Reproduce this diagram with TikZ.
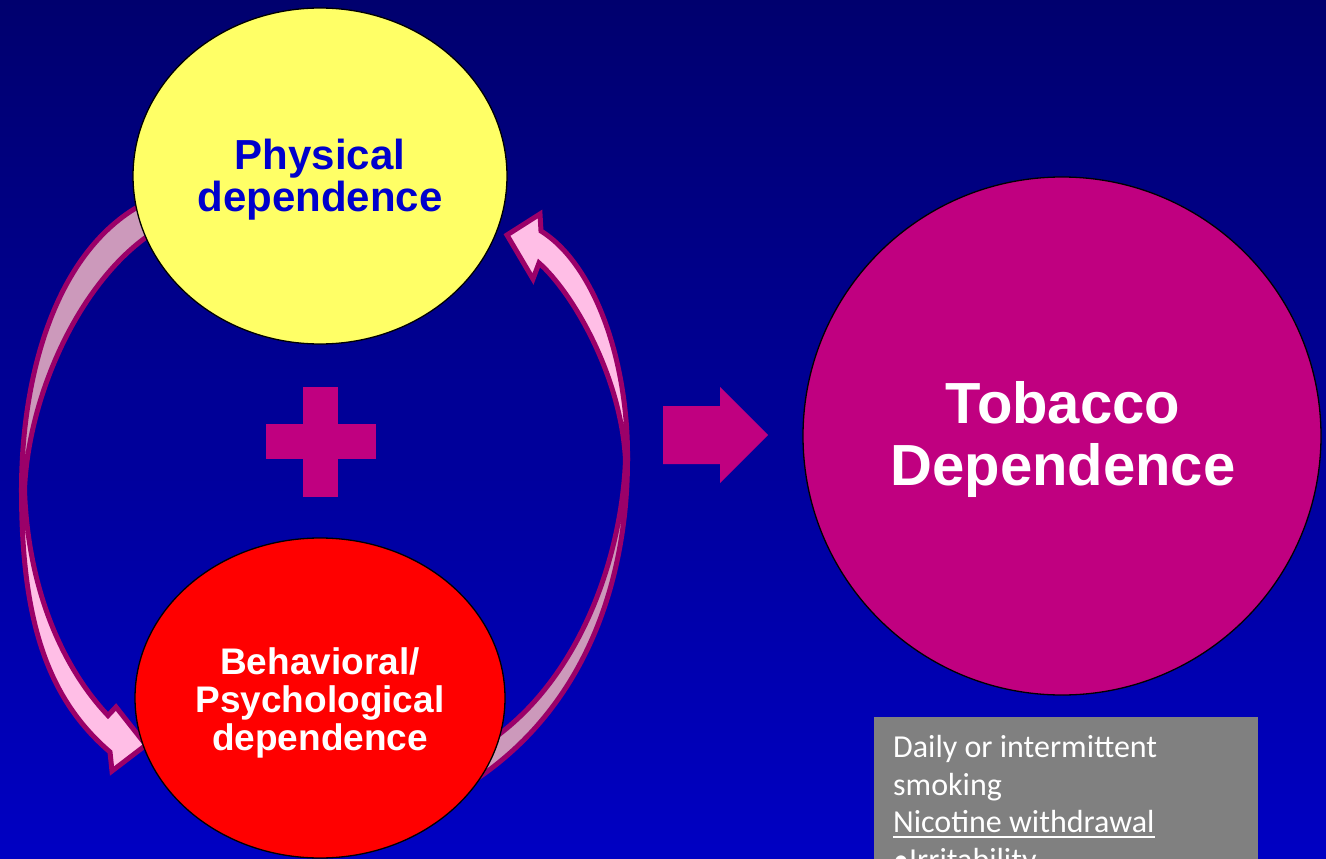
\documentclass[tikz,border=0pt]{standalone}
\usepackage{fontspec}
\setmainfont{Liberation Sans}
\newfontfamily\calibrifont{Carlito}
\usetikzlibrary{shapes.geometric}

\definecolor{bgtop}{RGB}{0,0,110}
\definecolor{bgbot}{RGB}{0,0,195}
\definecolor{lemon}{RGB}{255,255,102}
\definecolor{plum}{RGB}{192,0,128}
\definecolor{rim}{RGB}{155,0,105}
\definecolor{ribbonback}{RGB}{204,153,187}
\definecolor{ribbonfront}{RGB}{255,190,230}
\definecolor{inkblue}{RGB}{0,0,204}
\definecolor{panel}{RGB}{128,128,128}

\begin{document}
\begin{tikzpicture}[x=1pt,y=-1pt,
  ribbon/.style={draw=rim,line width=5pt,line join=miter,miter limit=4},
  bubble/.style={ellipse,draw=black,line width=1.3pt,inner sep=0pt},
  caption/.style={align=center,inner sep=0pt,font=\bfseries},
  solidmark/.style={fill=plum},
  panelline/.style={anchor=base west,inner sep=0pt,text=white,
    font=\calibrifont\fontsize{32}{38}\selectfont}]

\useasboundingbox (0,0) rectangle (1326,859);
\clip (0,0) rectangle (1326,859);

% backdrop
\shade[top color=bgtop,bottom color=bgbot] (0,0) rectangle (1326,859);

% left ribbon: rear half (top) and front half with head (bottom)
\filldraw[ribbon,fill=ribbonback]
  (157,196) -- (137.5,207) .. controls (53,257) and (21.5,380) .. (21.5,490)
  -- (24.5,490) .. controls (28,400) and (75,290) .. (145,238) -- (165,227) -- cycle;
\filldraw[ribbon,fill=ribbonfront]
  (21.5,490) .. controls (21.5,620) and (47,698) .. (110,752)
  -- (112,771) -- (146,745) -- (116,707)
  -- (108,715.5) .. controls (63,668) and (28,590) .. (24.5,490) -- cycle;

% right ribbon: rear half (bottom) and front half with head (top)
\filldraw[ribbon,fill=ribbonback]
  (627.5,460) .. controls (627.5,570) and (592,700) .. (478,778)
  -- (497,736) .. controls (585,670) and (622,550) .. (625.5,460) -- cycle;
\filldraw[ribbon,fill=ribbonfront]
  (541,231) .. controls (594,264) and (628.5,360) .. (627.5,460)
  -- (625.5,460) .. controls (621,375) and (572,292) .. (539,263)
  -- (533,279) -- (507,235) -- (540,214) -- cycle;

% plus sign
\fill[solidmark] (266,424) rectangle (376,459);
\fill[solidmark] (303,387) rectangle (338,497);

% block arrow
\fill[solidmark] (663,406) -- (720,406) -- (720,387) -- (768,435)
  -- (720,483) -- (720,464) -- (663,464) -- cycle;

% the three circles
\node[bubble,fill=lemon,minimum width=374pt,minimum height=336pt] (phys) at (320,176) {};
\node[bubble,fill=red,minimum width=370pt,minimum height=320pt] (behav) at (320,698) {};
\node[bubble,fill=plum,minimum width=518pt,minimum height=518pt] (tob) at (1062,436) {};

\node[caption,text=inkblue,font=\bfseries\fontsize{42}{42}\selectfont]
  (physlabel) at (320,180) {Physical\\dependence};
\node[caption,text=white,font=\bfseries\fontsize{37}{38}\selectfont]
  (behavlabel) at (320,703) {Behavioral/\\Psychological\\dependence};
\node[caption,text=white,font=\bfseries\fontsize{58}{62}\selectfont]
  (toblabel) at (1063,440) {Tobacco\\Dependence};

% grey note panel
\fill[panel] (874,717) rectangle (1258,880);
\node[panelline] (l1) at (893,757) {Daily or intermittent};
\node[panelline] (l2) at (893,795) {smoking};
\node[panelline] (l3) at (893,832) {Nicotine withdrawal};
\node[panelline] (l4) at (893,870) {•Irritability};
\draw[white,line width=1.6pt] ([yshift=-5pt]l3.base west) -- ([yshift=-5pt]l3.base east);
\end{tikzpicture}
\end{document}
